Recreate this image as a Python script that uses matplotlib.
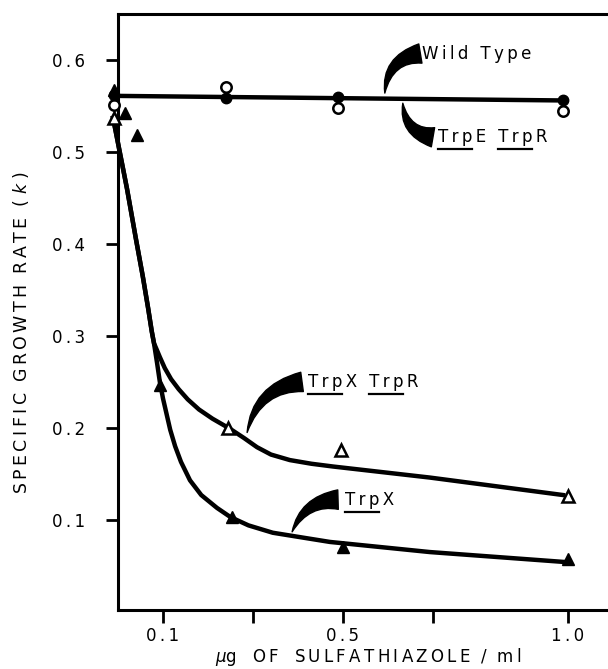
import matplotlib
matplotlib.use('Agg')
import matplotlib.pyplot as plt
from matplotlib.lines import Line2D
from matplotlib.transforms import IdentityTransform

# values
wt_x = [-0.01, 0.24, 0.49, 0.99]          # wild type, filled circles
wt_y = [0.562, 0.559, 0.560, 0.556]
trper_x = [-0.01, 0.24, 0.49, 0.99]       # TrpE TrpR, open circles
trper_y = [0.551, 0.571, 0.548, 0.545]
flat_x = [-0.01, 0.99]                    # common line through both
flat_y = [0.561, 0.556]

trpxr_x = [-0.01, 0.245, 0.495, 1.0]      # TrpX TrpR, open triangles
trpxr_y = [0.537, 0.200, 0.176, 0.126]
trpx_x = [-0.01, 0.016, 0.042, 0.093, 0.253, 0.50, 1.0]   # TrpX, filled triangles
trpx_y = [0.567, 0.542, 0.518, 0.247, 0.103, 0.070, 0.057]

# hand-drawn curves, traced
trpxr_cx = [-0.011, 0.02, 0.04, 0.055, 0.067, 0.075, 0.08, 0.087, 0.093, 0.104, 0.118, 0.135,
            0.155, 0.18, 0.21, 0.249, 0.28, 0.309, 0.34, 0.382, 0.43, 0.478, 0.693, 0.989]
trpxr_cy = [0.537, 0.46, 0.405, 0.365, 0.33, 0.305, 0.292, 0.284, 0.277, 0.265, 0.253, 0.242,
            0.231, 0.220, 0.210, 0.199, 0.189, 0.179, 0.171, 0.165, 0.161, 0.158, 0.146, 0.127]
trpx_cx = [-0.011, 0.02, 0.04, 0.055, 0.067, 0.075, 0.08, 0.087, 0.093, 0.10, 0.108, 0.116, 0.127,
           0.14, 0.16, 0.185, 0.22, 0.25, 0.29, 0.344, 0.42, 0.471, 0.693, 0.998]
trpx_cy = [0.537, 0.46, 0.405, 0.365, 0.33, 0.305, 0.292, 0.27, 0.25, 0.232, 0.215, 0.198, 0.18,
           0.163, 0.143, 0.127, 0.113, 0.103, 0.094, 0.086, 0.080, 0.076, 0.065, 0.054]

xticks = [0.1, 0.3, 0.5, 0.7, 1.0]
xtick_labels = ['0.1', '', '0.5', '', '1.0']
yticks = [0.1, 0.2, 0.3, 0.4, 0.5, 0.6]
ytick_labels = ['0.1', '0.2', '0.3', '0.4', '0.5', '0.6']

TS = '\u2009'
def spaced(s):
    return TS.join(s)

plt.rcParams['font.family'] = ['DejaVu Sans']
fig = plt.figure(figsize=(6.08, 6.69), dpi=100)
ax = fig.add_axes([118 / 608, 59 / 669, 1 - 118 / 608, 596 / 669])
ax.set_xlim(0, 1.089)
ax.set_ylim(0.002, 0.65)

lw = 3.2
ax.plot(flat_x, flat_y, color='black', lw=lw, clip_on=False, solid_joinstyle='round')
ax.plot(trpxr_cx, trpxr_cy, color='black', lw=lw, clip_on=False, solid_joinstyle='round')
ax.plot(trpx_cx, trpx_cy, color='black', lw=lw, clip_on=False, solid_joinstyle='round')

ax.plot(trper_x, trper_y, 'o', ms=7.5, mfc='white', mec='black', mew=1.8, clip_on=False, zorder=5)
ax.plot(wt_x, wt_y, 'o', ms=7.5, mfc='black', mec='black', clip_on=False, zorder=5)
ax.plot(trpxr_x, trpxr_y, '^', ms=8.5, mfc='white', mec='black', mew=1.8, clip_on=False, zorder=5)
ax.plot(trpx_x, trpx_y, '^', ms=8.5, mfc='black', mec='black', clip_on=False, zorder=6)

for s in ['top', 'bottom', 'left']:
    ax.spines[s].set_linewidth(2.2)
ax.spines['right'].set_visible(False)

ax.set_xticks(xticks)
ax.set_xticklabels([spaced(t) for t in xtick_labels])
ax.set_yticks(yticks)
ax.set_yticklabels([spaced(t) for t in ytick_labels])
ax.tick_params(axis='both', direction='out', length=9, width=2, labelsize=12)
ax.tick_params(axis='x', pad=3)
ax.tick_params(axis='y', pad=15)

ax.set_ylabel(spaced('SPECIFIC') + '  ' + spaced('GROWTH') + '  ' + spaced('RATE') + '  ( $k$ )',
              fontsize=12.5)
ax.yaxis.set_label_coords(-0.178, (610 - 333) / 596)
ax.set_xlabel('$\\mu$g   ' + spaced('OF') + '   ' + spaced('SULFATHIAZOLE') + '  /  ' + spaced('ml'),
              fontsize=12)
ax.xaxis.set_label_coords((368 - 118) / 490, -0.061)

# curved wedge pointers: (tail, tip, rad)
pointers = [((0.672, 0.607), (0.593, 0.564), 0.4),
            ((0.700, 0.516), (0.633, 0.553), -0.4),
            ((0.409, 0.250), (0.287, 0.195), 0.35),
            ((0.489, 0.122), (0.387, 0.087), 0.33)]
for tail, tip, rad in pointers:
    ax.annotate('', xy=tip, xytext=tail,
                arrowprops=dict(arrowstyle='wedge,tail_width=0.7,shrink_factor=0.5',
                                connectionstyle=f'arc3,rad={rad}', fc='black', ec='black',
                                shrinkA=0, shrinkB=0, mutation_scale=20))

labels = [((0.676, 0.607), 'Wild Type', []),
          ((0.711, 0.516), 'TrpE TrpR', [(0, 3), (5, 8)]),
          ((0.422, 0.250), 'TrpX TrpR', [(0, 3), (5, 8)]),
          ((0.504, 0.122), 'TrpX', [(0, 3)])]
texts = []
for (x, y), s, ul in labels:
    t = ax.text(x, y, spaced(s), fontsize=12, ha='left', va='center')
    texts.append((t, s, ul))

fig.canvas.draw()
r = fig.canvas.get_renderer()
for t, s, ul in texts:
    bb = t.get_window_extent(r)
    prop = t.get_fontproperties()
    for a, b in ul:
        w0 = r.get_text_width_height_descent(spaced(s[:a]) + TS, prop, ismath=False)[0] if a else 0
        w1 = r.get_text_width_height_descent(spaced(s[:b]), prop, ismath=False)[0]
        yy = bb.y0 - 3
        fig.add_artist(Line2D([bb.x0 + w0, bb.x0 + w1], [yy, yy], color='black', lw=1.6,
                              transform=IdentityTransform()))

fig.savefig('out.png', dpi=100)
